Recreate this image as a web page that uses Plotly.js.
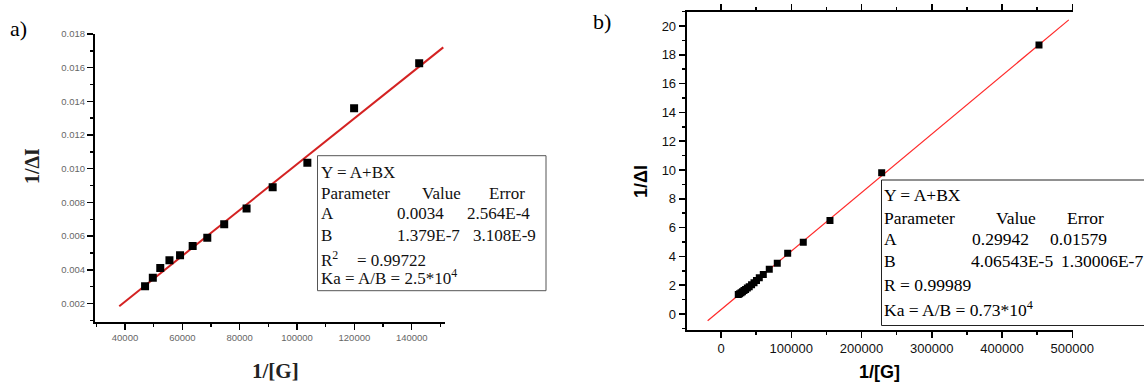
<!DOCTYPE html>
<html>
<head>
<meta charset="utf-8">
<script src="https://cdn.plot.ly/plotly-3.0.1.min.js"></script>
<style>html,body{margin:0;padding:0;background:#fff;} #chart{width:1144px;height:383px;}</style>
</head>
<body>
<div id="chart"></div>
<script>
// ---------- data (panel a) ----------
const xA = [47000, 49700, 52300, 55500, 59200, 63600, 68700, 74600, 82400, 91500, 103600, 119900, 142600];
const yA = [0.00303, 0.00353, 0.00410, 0.00456, 0.00486, 0.00541, 0.00591, 0.00670, 0.00764, 0.00890, 0.01035, 0.01359, 0.01627];
const fitAInterceptDrawn = -0.00333;
const fitASlopeDrawn = 1.36e-7;
const fitAX = [38000, 151000];
// ---------- data (panel b) ----------
const xB = [24600, 26500, 28500, 30500, 32700, 35000, 37500, 40200, 43500, 47000, 50500, 54500, 60200, 68700, 80100, 94900, 117100, 155100, 228700, 452600];
const yB = [1.35, 1.41, 1.48, 1.55, 1.63, 1.71, 1.80, 1.90, 2.03, 2.17, 2.33, 2.52, 2.74, 3.10, 3.52, 4.22, 4.98, 6.50, 9.81, 18.68];
const fitBIntercept = 0.29942;
const fitBSlope = 4.06543e-5;
const fitBX = [-19000, 495000];
// ---------- text ----------
const boxA = {
  eq: "Y = A+BX",
  head: ["Parameter", "Value", "Error"],
  rowA: ["A", "0.0034", "2.564E-4"],
  rowB: ["B", "1.379E-7", "3.108E-9"],
  r: ["R<sup>2</sup>", "= 0.99722"],
  ka: "Ka = A/B = 2.5*10<sup>4</sup>"
};
const boxB = {
  eq: "Y = A+BX",
  head: ["Parameter", "Value", "Error"],
  rowA: ["A", "0.29942", "0.01579"],
  rowB: ["B", "4.06543E-5", "1.30006E-7"],
  r: "R = 0.99989",
  ka: "Ka = A/B = 0.73*10<sup>4</sup>"
};
const labels = {a: "a)", b: "b)", xTitle: "1/[G]", yTitle: "1/ΔI"};

const fitAY = fitAX.map(x => fitAInterceptDrawn + fitASlopeDrawn * x);
const fitBY = fitBX.map(x => fitBIntercept + fitBSlope * x);

const W = 1144, H = 383;
const px = x => x / W;
const py = y => (H - y) / H;

const serif = "Liberation Serif, Times New Roman, serif";
const sans = "Liberation Sans, Arial, sans-serif";

const traces = [
  {x: fitAX, y: fitAY, xaxis: 'x', yaxis: 'y', mode: 'lines', line: {color: '#d42222', width: 2}, hoverinfo: 'skip'},
  {x: xA, y: yA, xaxis: 'x', yaxis: 'y', mode: 'markers', marker: {symbol: 'square', size: 8, color: '#000'}},
  {x: fitBX, y: fitBY, xaxis: 'x2', yaxis: 'y2', mode: 'lines', line: {color: '#ff2a2a', width: 1.2}, hoverinfo: 'skip'},
  {x: xB, y: yB, xaxis: 'x2', yaxis: 'y2', mode: 'markers', marker: {symbol: 'square', size: 7, color: '#000'}}
];

function ann(x, y, text, font, extra) {
  return Object.assign({
    xref: 'paper', yref: 'paper', x: px(x), y: py(y), text: text, showarrow: false,
    xanchor: 'left', yanchor: 'middle', font: font
  }, extra || {});
}
const fA = {family: serif, size: 17, color: '#111'};
const fB = {family: serif, size: 17.5, color: '#000'};

const annotations = [
  ann(18, 28, labels.a, {family: serif, size: 22, color: '#000'}, {xanchor: 'center'}),
  ann(602, 21, labels.b, {family: serif, size: 22, color: '#000'}, {xanchor: 'center'}),
  ann(275, 371, labels.xTitle, {family: serif, size: 21, color: '#222'}, {xanchor: 'center', text: '<b>' + labels.xTitle + '</b>'}),
  ann(32, 166, labels.yTitle, {family: serif, size: 20, color: '#222'}, {xanchor: 'center', textangle: -90, text: '<b>' + labels.yTitle + '</b>'}),
  ann(879, 372, labels.xTitle, {family: sans, size: 18, color: '#000'}, {xanchor: 'center', text: '<b>' + labels.xTitle + '</b>'}),
  ann(641, 182, labels.yTitle, {family: sans, size: 18, color: '#000'}, {xanchor: 'center', textangle: -90, text: '<b>' + labels.yTitle + '</b>'}),
  // box a
  ann(319, 172.5, boxA.eq, fA),
  ann(319, 193, boxA.head[0], fA), ann(420, 193, boxA.head[1], fA), ann(487, 193, boxA.head[2], fA),
  ann(319, 213.5, boxA.rowA[0], fA), ann(395, 213.5, boxA.rowA[1], fA), ann(465, 213.5, boxA.rowA[2], fA),
  ann(319, 235, boxA.rowB[0], fA), ann(395, 235, boxA.rowB[1], fA), ann(471, 235, boxA.rowB[2], fA),
  ann(319, 259, boxA.r[0], fA), ann(355, 260, boxA.r[1], fA),
  ann(319, 276.5, boxA.ka, fA),
  // box b
  ann(882, 195, boxB.eq, fB),
  ann(882, 218, boxB.head[0], fB), ann(994, 218, boxB.head[1], fB), ann(1065, 218, boxB.head[2], fB),
  ann(882, 239.5, boxB.rowA[0], fB), ann(970, 239.5, boxB.rowA[1], fB), ann(1048, 239.5, boxB.rowA[2], fB),
  ann(882, 260.5, boxB.rowB[0], fB), ann(969, 260.5, boxB.rowB[1], fB), ann(1059, 260.5, boxB.rowB[2], fB),
  ann(882, 285, boxB.r, fB),
  ann(882, 309, boxB.ka, fB)
];

const shapes = [
  {type: 'rect', xref: 'paper', yref: 'paper', x0: px(317.5), x1: px(546), y0: py(290.7), y1: py(155.7),
   line: {color: '#555', width: 1}, fillcolor: 'rgba(255,255,255,1)', layer: 'above'},
  {type: 'rect', xref: 'paper', yref: 'paper', x0: px(881.5), x1: px(1160), y0: py(325.5), y1: py(180),
   line: {color: '#222', width: 1}, fillcolor: 'rgba(255,255,255,1)', layer: 'above'}
];

const layout = {
  width: W, height: H,
  margin: {l: 0, r: 0, t: 0, b: 0},
  paper_bgcolor: '#fff', plot_bgcolor: 'rgba(0,0,0,0)',
  showlegend: false,
  xaxis: {
    domain: [px(95), px(445)], anchor: 'y', range: [29540, 151600],
    showgrid: false, zeroline: false, showline: true, linecolor: '#000', linewidth: 2,
    ticks: 'outside', ticklen: 6, tickwidth: 1.5, tickcolor: '#000', dtick: 20000, tick0: 0, tickformat: 'd',
    minor: {ticks: 'outside', ticklen: 3, dtick: 10000, tickcolor: '#000', tickwidth: 1.5},
    tickfont: {family: sans, size: 9.5, color: '#666'}
  },
  yaxis: {
    domain: [py(321.5), py(33.5)], anchor: 'x', range: [0.00093, 0.01803],
    showgrid: false, zeroline: false, showline: true, linecolor: '#000', linewidth: 2,
    ticks: 'outside', ticklen: 6, tickwidth: 1.5, tickcolor: '#000', dtick: 0.002, tick0: 0, tickformat: '.3f',
    minor: {ticks: 'outside', ticklen: 3, dtick: 0.001, tickcolor: '#000', tickwidth: 1.5},
    tickfont: {family: sans, size: 9.5, color: '#666'}
  },
  xaxis2: {
    domain: [px(686.7), px(1073)], anchor: 'y2', range: [-48820, 501000],
    showgrid: false, zeroline: false, showline: true, linecolor: '#000', linewidth: 2, mirror: 'ticks',
    ticks: 'outside', ticklen: 6, tickwidth: 1.5, tickcolor: '#000', dtick: 100000, tick0: 0, tickformat: 'd',
    minor: {ticks: 'outside', ticklen: 3, dtick: 50000, tickcolor: '#000', tickwidth: 1.5},
    tickfont: {family: sans, size: 13, color: '#111'}
  },
  yaxis2: {
    domain: [py(329.5), py(11.5)], anchor: 'x2', range: [-1.076, 21.007],
    showgrid: false, zeroline: false, showline: true, linecolor: '#000', linewidth: 2,
    ticks: 'outside', ticklen: 6, tickwidth: 1.5, tickcolor: '#000', dtick: 2, tick0: 0,
    minor: {ticks: 'outside', ticklen: 3, dtick: 1, tickcolor: '#000', tickwidth: 1.5},
    tickfont: {family: sans, size: 13, color: '#111'}
  },
  shapes: shapes,
  annotations: annotations
};

Plotly.newPlot('chart', traces, layout, {displayModeBar: false, staticPlot: true});
</script>
</body>
</html>
